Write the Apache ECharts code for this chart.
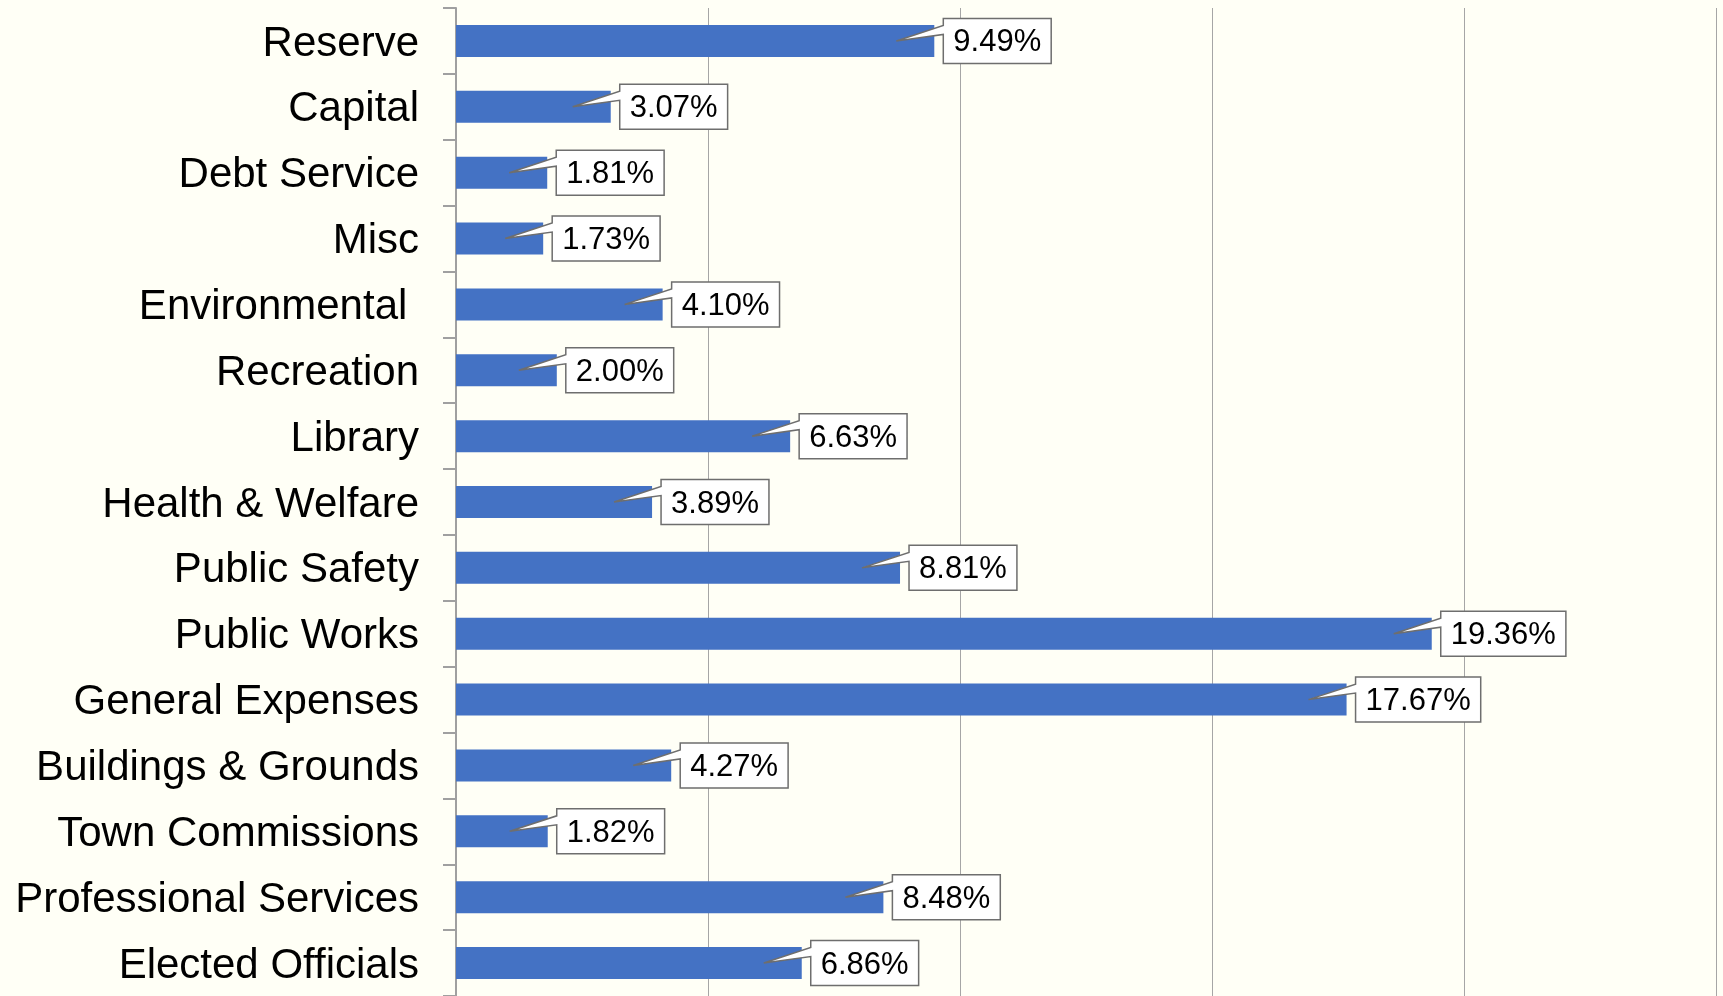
<!DOCTYPE html>
<html>
<head>
<meta charset="utf-8">
<title>Budget share by department</title>
<script src="https://cdn.jsdelivr.net/npm/echarts@6/dist/echarts.min.js"></script>
<style>
  html, body { margin: 0; padding: 0; background: #fffff6; }
  #chart { width: 1723px; height: 996px; }
</style>
</head>
<body>
<div id="chart"></div>
<script>
// categories, top to bottom
const categories = [
  'Reserve', 'Capital', 'Debt Service', 'Misc', 'Environmental ',
  'Recreation', 'Library', 'Health & Welfare', 'Public Safety', 'Public Works',
  'General Expenses', 'Buildings & Grounds', 'Town Commissions',
  'Professional Services', 'Elected Officials'
]
// percent of budget
const shares = [
  9.49, 3.07, 1.81, 1.73, 4.10,
  2.00, 6.63, 3.89, 8.81, 19.36,
  17.67, 4.27, 1.82, 8.48, 6.86
]

const FONT = '"Liberation Sans", Arial, sans-serif'
const labelFont = '31px ' + FONT

// measure label text so the callout box fits it
const ctx = document.createElement('canvas').getContext('2d')
ctx.font = labelFont
function textWidth(t) {
  return ctx.measureText(t).width
}

// callout box with a little wedge pointing into the bar end
function renderCallout(params, api) {
  const v = api.value(0)
  const end = api.coord([v, api.value(1)])
  const text = v.toFixed(2) + '%'
  const w = textWidth(text) + 20
  const h = 45
  const bx = end[0] + 9
  const by = end[1] - h / 2
  const tip = [end[0] - 38, end[1]]
  return {
    type: 'group',
    children: [
      {
        type: 'polygon',
        shape: {
          points: [
            [bx, by], [bx + w, by], [bx + w, by + h], [bx, by + h],
            [bx, by + 16], tip, [bx, by + 7]
          ]
        },
        style: { fill: '#ffffff', stroke: '#6e6e6e', lineWidth: 1.5 }
      },
      {
        type: 'text',
        style: {
          text: text,
          x: bx + w / 2,
          y: by + h / 2 + 2,
          align: 'center',
          verticalAlign: 'middle',
          font: labelFont,
          fill: '#000000'
        }
      }
    ]
  }
}

const chart = echarts.init(document.getElementById('chart'))
chart.setOption({
  backgroundColor: '#fffff6',
  animation: false,
  grid: { left: 456, right: 7, top: 8, bottom: 0 },
  xAxis: {
    type: 'value',
    min: 0,
    max: 25,
    interval: 5,
    axisLine: { show: false },
    axisTick: { show: false },
    axisLabel: { show: false },
    splitLine: { lineStyle: { color: '#a6a6a6', width: 1 } }
  },
  yAxis: {
    type: 'category',
    inverse: true,
    data: categories,
    axisLine: { lineStyle: { color: '#a0a0a0', width: 2 } },
    axisTick: { show: true, length: 13, lineStyle: { color: '#a0a0a0', width: 2 } },
    axisLabel: {
      color: '#000000',
      fontSize: 42,
      fontFamily: FONT,
      margin: 37,
      // nudge the names a few px below the band centre, like the original
      verticalAlign: 'top',
      lineHeight: 6
    }
  },
  series: [
    {
      type: 'bar',
      data: shares,
      barWidth: 32,
      itemStyle: { color: '#4472c4' }
    },
    {
      type: 'custom',
      renderItem: renderCallout,
      data: shares.map((v, i) => [v, i]),
      encode: { x: 0, y: 1 },
      clip: false,
      z: 5
    }
  ]
})
</script>
</body>
</html>
